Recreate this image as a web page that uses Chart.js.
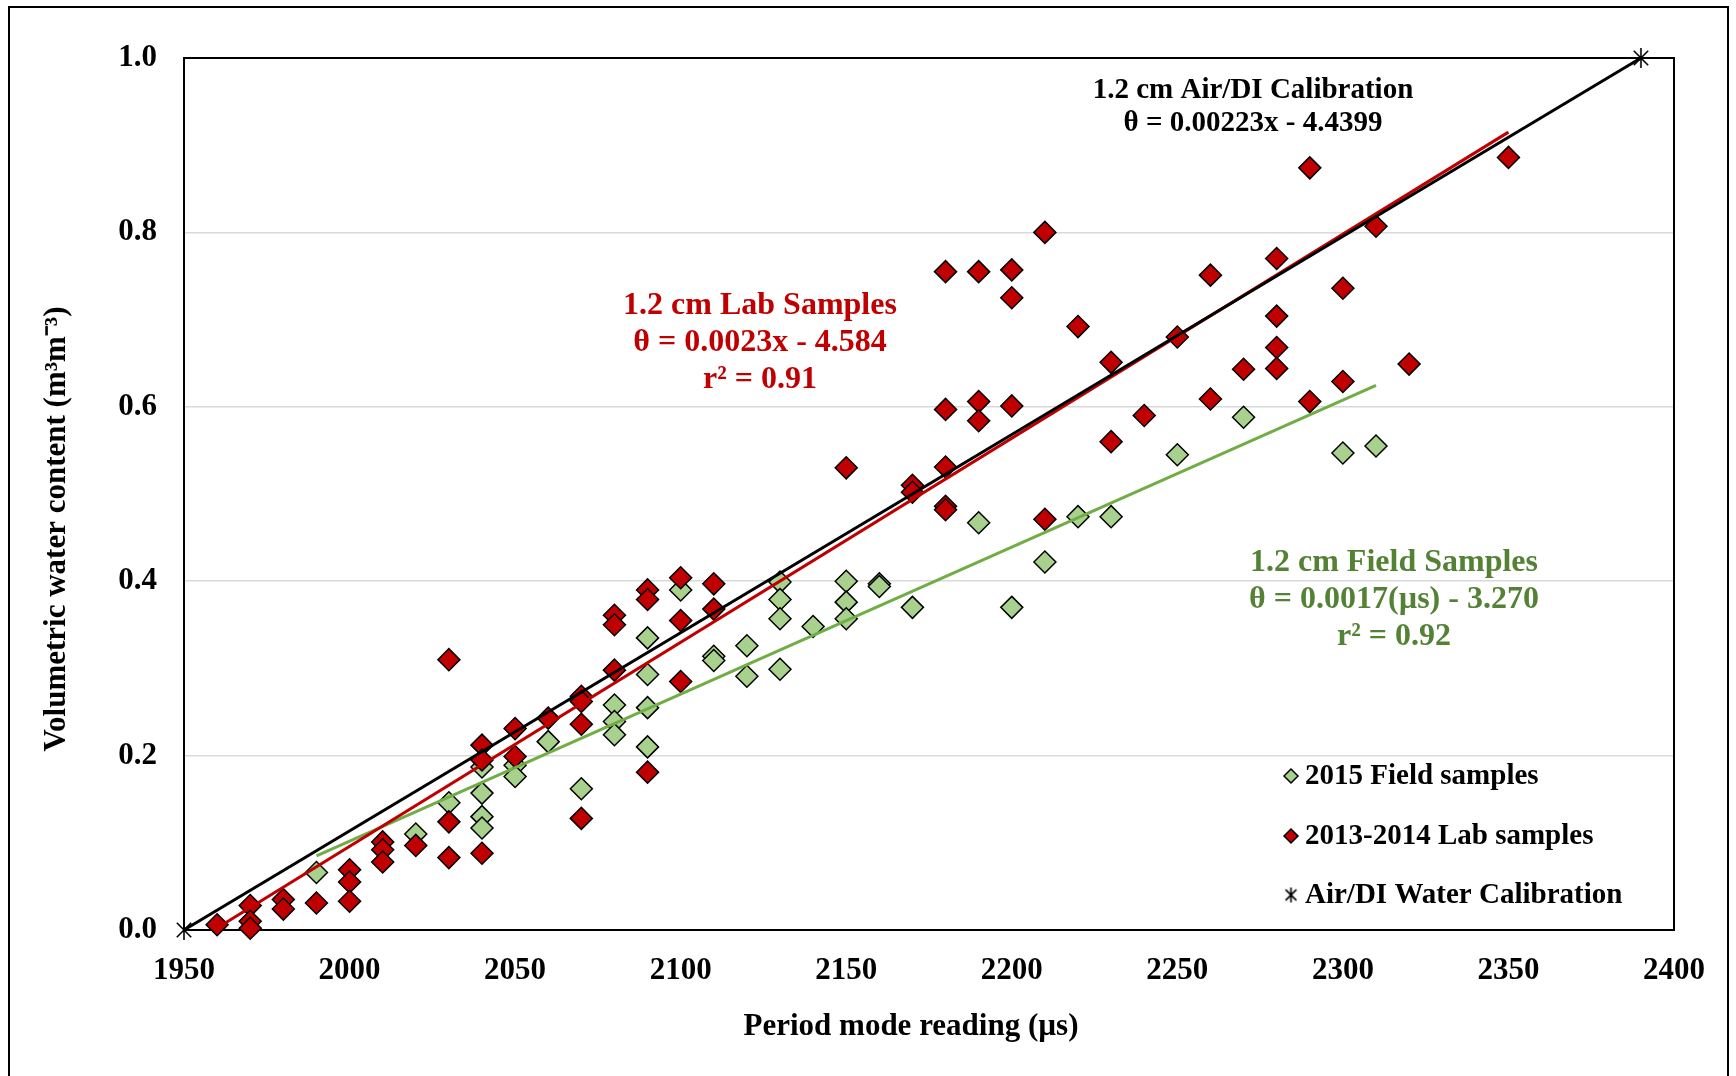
<!DOCTYPE html>
<html>
<head>
<meta charset="utf-8">
<title>Period mode reading vs volumetric water content</title>
<script src="https://cdn.jsdelivr.net/npm/chart.js@4.4.1/dist/chart.umd.min.js"></script>
<style>
  html, body { margin: 0; padding: 0; background: #fff; overflow: hidden; }
  #wrap { position: relative; width: 1736px; height: 1076px; }
  #frame { position: absolute; left: 8px; top: 6px; width: 1717px; height: 1100px; border: 2px solid #000; }
  #myChart { position: absolute; left: 0; top: 0; }
</style>
</head>
<body>
<div id="wrap">
  <div id="frame"></div>
  <canvas id="myChart" width="1736" height="1076"></canvas>
</div>
<script>
const FONT = "'Liberation Serif', 'Times New Roman', serif";

// 2015 field samples
const fieldPeriod = [1990, 2020, 2030, 2040, 2040, 2040, 2040, 2050, 2050, 2060, 2070,
  2080, 2080, 2080, 2090, 2090, 2090, 2090, 2100, 2110, 2110, 2120, 2120,
  2130, 2130, 2130, 2130, 2140, 2150, 2150, 2150, 2160, 2160, 2170, 2190,
  2200, 2210, 2220, 2230, 2250, 2270, 2300, 2310];
const fieldTheta = [0.066, 0.110, 0.146, 0.187, 0.157, 0.130, 0.117, 0.189, 0.176, 0.216, 0.162,
  0.258, 0.239, 0.224, 0.335, 0.293, 0.255, 0.210, 0.390, 0.314, 0.309, 0.326, 0.291,
  0.399, 0.379, 0.357, 0.299, 0.348, 0.400, 0.376, 0.357, 0.397, 0.394, 0.370, 0.467,
  0.370, 0.422, 0.474, 0.474, 0.545, 0.588, 0.547, 0.555];

// 2013-2014 lab samples
const labPeriod = [1960, 1970, 1970, 1970, 1980, 1980, 1990, 2000, 2000, 2000,
  2010, 2010, 2010, 2020, 2030, 2030, 2030, 2040, 2040, 2040, 2050, 2050, 2060,
  2070, 2070, 2070, 2070, 2080, 2080, 2080, 2090, 2090, 2090, 2100, 2100, 2100,
  2110, 2110, 2150, 2170, 2170, 2180, 2180, 2180, 2180, 2180, 2190, 2190, 2190,
  2200, 2200, 2200, 2210, 2210, 2220, 2230, 2230, 2240, 2250, 2260, 2260, 2270,
  2280, 2280, 2280, 2280, 2290, 2290, 2300, 2300, 2310, 2320, 2350];
const labTheta = [0.006, 0.028, 0.010, 0.002, 0.035, 0.024, 0.031, 0.069, 0.055, 0.033,
  0.101, 0.092, 0.078, 0.097, 0.310, 0.124, 0.083, 0.212, 0.195, 0.088, 0.231, 0.199, 0.243,
  0.268, 0.262, 0.236, 0.128, 0.361, 0.350, 0.298, 0.390, 0.379, 0.181, 0.404, 0.355, 0.285,
  0.397, 0.368, 0.530, 0.510, 0.502, 0.755, 0.597, 0.531, 0.486, 0.482, 0.755, 0.606, 0.584,
  0.757, 0.725, 0.601, 0.800, 0.471, 0.692, 0.651, 0.560, 0.590, 0.680, 0.751, 0.609, 0.643,
  0.770, 0.704, 0.668, 0.644, 0.874, 0.606, 0.736, 0.629, 0.807, 0.649, 0.886];

// air / DI water calibration points
const calibPeriod = [1950, 2390];
const calibTheta = [0.0, 1.0];

// linear fits: [slope, intercept] over the sampled period range
const labFit = [0.00234, -4.584];
const labFitRange = [1960, 2350];
const fieldFit = [0.001686, -3.270];
const fieldFitRange = [1990, 2310];

const xTicks = [1950, 2000, 2050, 2100, 2150, 2200, 2250, 2300, 2350, 2400];
const yTicks = [0.0, 0.2, 0.4, 0.6, 0.8, 1.0];

const seriesNames = ['2015 Field samples', '2013-2014 Lab samples', 'Air/DI Water Calibration'];

const toPoints = (xs, ys) => xs.map((x, i) => ({ x: x, y: ys[i] }));
const fitLine = (fit, range) => range.map(x => ({ x: x, y: fit[0] * x + fit[1] }));

// excel style asterisk marker
function asterisk(size) {
  const c = document.createElement('canvas');
  c.width = size;
  c.height = size;
  const g = c.getContext('2d');
  const m = size / 2, r = size / 2 - 1, d = r * 0.72;
  g.strokeStyle = '#000';
  g.lineWidth = 1.6;
  g.beginPath();
  g.moveTo(m, m - r); g.lineTo(m, m + r);
  g.moveTo(m - d, m - d); g.lineTo(m + d, m + d);
  g.moveTo(m + d, m - d); g.lineTo(m - d, m + d);
  g.stroke();
  return c;
}
const starBig = asterisk(22);
const starSmall = asterisk(17);

const LAB_RED = '#C00000';
const FIELD_FILL = '#A9D18E';
const FIELD_LINE = '#70AD47';
const FIELD_TEXT = '#548235';

const notes = [
  { lines: ['1.2 cm Air/DI Calibration', 'θ = 0.00223x - 4.4399'], x: 1253, y: 91, gap: 33, size: 29, color: '#000' },
  { lines: ['1.2 cm Lab Samples', 'θ = 0.0023x - 4.584', 'r² = 0.91'], x: 760, y: 306, gap: 37, size: 32, color: LAB_RED },
  { lines: ['1.2 cm Field Samples', 'θ = 0.0017(µs) - 3.270', 'r² = 0.92'], x: 1394, y: 563, gap: 37, size: 32, color: FIELD_TEXT }
];

const decorations = {
  id: 'decorations',
  beforeDatasetsDraw(chart) {
    const a = chart.chartArea;
    const ctx = chart.ctx;
    ctx.save();
    ctx.strokeStyle = '#000';
    ctx.lineWidth = 2;
    ctx.strokeRect(a.left, a.top, a.right - a.left, a.bottom - a.top);
    ctx.restore();
  },
  afterDraw(chart) {
    const ctx = chart.ctx;
    ctx.save();
    ctx.textAlign = 'center';
    ctx.textBaseline = 'middle';

    notes.forEach(n => {
      ctx.fillStyle = n.color;
      ctx.font = 'bold ' + n.size + 'px ' + FONT;
      n.lines.forEach((t, i) => ctx.fillText(t, n.x, n.y + i * n.gap));
    });

    // axis titles
    ctx.fillStyle = '#000';
    ctx.font = 'bold 31px ' + FONT;
    ctx.fillText('Period mode reading (µs)', 911, 1027);
    ctx.save();
    ctx.translate(57, 529);
    ctx.rotate(-Math.PI / 2);
    ctx.fillText('Volumetric water content (m³m⁻³)', 0, 0);
    ctx.restore();

    // legend, in the order the series are named
    const rows = [777, 837, 896];
    ctx.textAlign = 'left';
    ctx.font = 'bold 29px ' + FONT;
    chart.data.datasets
      .filter(d => d.legendRank !== undefined)
      .sort((a, b) => a.legendRank - b.legendRank)
      .forEach((d, i) => {
        ctx.save();
        ctx.fillStyle = d.backgroundColor;
        ctx.strokeStyle = '#000';
        ctx.lineWidth = 1.5;
        Chart.helpers.drawPoint(ctx, {
          pointStyle: d.legendStyle,
          radius: 7,
          rotation: 0,
          borderWidth: 1.5
        }, 1291, rows[i] - 1);
        ctx.restore();
        ctx.fillStyle = '#000';
        ctx.fillText(d.label, 1305, rows[i]);
      });
    ctx.restore();
  }
};

const ctx = document.getElementById('myChart').getContext('2d');
const myChart = new Chart(ctx, {
  type: 'scatter',
  data: {
    datasets: [
      {
        label: seriesNames[2],
        legendRank: 2,
        legendStyle: starSmall,
        data: toPoints(calibPeriod, calibTheta),
        showLine: true,
        borderColor: '#000',
        borderWidth: 3,
        backgroundColor: '#000',
        pointStyle: starBig,
        pointRadius: 10,
        clip: false,
        order: 1
      },
      {
        label: 'lab fit',
        data: fitLine(labFit, labFitRange),
        showLine: true,
        borderColor: LAB_RED,
        borderWidth: 3,
        pointRadius: 0,
        order: 2
      },
      {
        label: 'field fit',
        data: fitLine(fieldFit, fieldFitRange),
        showLine: true,
        borderColor: FIELD_LINE,
        borderWidth: 3,
        pointRadius: 0,
        order: 3
      },
      {
        label: seriesNames[1],
        legendRank: 1,
        legendStyle: 'rectRot',
        data: toPoints(labPeriod, labTheta),
        pointStyle: 'rectRot',
        pointRadius: 11,
        backgroundColor: LAB_RED,
        borderColor: '#000',
        borderWidth: 1.5,
        clip: false,
        order: 4
      },
      {
        label: seriesNames[0],
        legendRank: 0,
        legendStyle: 'rectRot',
        data: toPoints(fieldPeriod, fieldTheta),
        pointStyle: 'rectRot',
        pointRadius: 11,
        backgroundColor: FIELD_FILL,
        borderColor: '#000',
        borderWidth: 1.5,
        clip: false,
        order: 5
      }
    ]
  },
  options: {
    responsive: false,
    animation: false,
    layout: {
      padding: { left: 0, top: 58, right: 62, bottom: 0 }
    },
    plugins: {
      legend: { display: false },
      tooltip: { enabled: false }
    },
    scales: {
      x: {
        type: 'linear',
        min: xTicks[0],
        max: xTicks[xTicks.length - 1],
        afterBuildTicks: s => { s.ticks = xTicks.map(v => ({ value: v })); },
        afterFit: s => { s.height = 146; },
        grid: { display: false, drawTicks: false },
        border: { display: false },
        ticks: {
          padding: 22,
          color: '#000',
          font: { family: FONT, size: 31, weight: 'bold' },
          callback: v => String(v)
        }
      },
      y: {
        type: 'linear',
        min: yTicks[0],
        max: yTicks[yTicks.length - 1],
        afterBuildTicks: s => { s.ticks = yTicks.map(v => ({ value: v })); },
        afterFit: s => { s.width = 184; },
        grid: { color: '#D9D9D9', lineWidth: 1.5, drawTicks: false },
        border: { display: false },
        ticks: {
          padding: 27,
          color: '#000',
          font: { family: FONT, size: 31, weight: 'bold' },
          callback: v => v.toFixed(1)
        }
      }
    }
  },
  plugins: [decorations]
});
</script>
</body>
</html>
